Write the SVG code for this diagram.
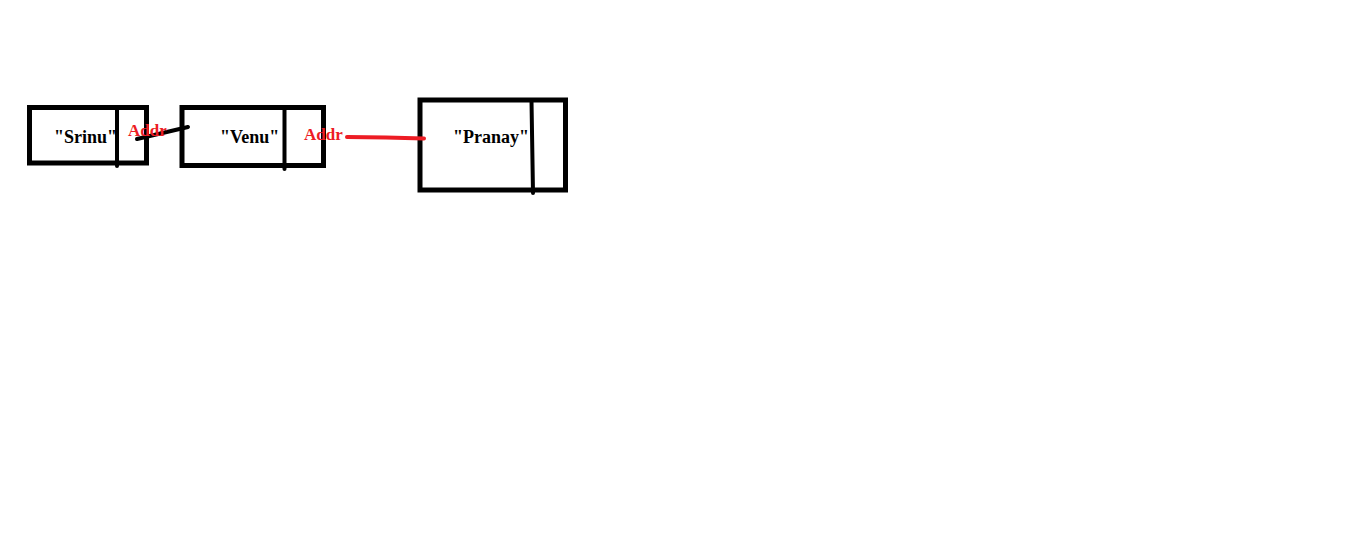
<svg xmlns="http://www.w3.org/2000/svg" width="1359" height="551" viewBox="0 0 1359 551">
<style>
.box{fill:none;stroke:#000;stroke-width:5}
.div{stroke:#000;stroke-width:4;stroke-linecap:round}
.lbl{font-family:"Liberation Serif",serif;font-weight:bold;font-size:18px;fill:#000}
.addr{font-family:"Liberation Serif",serif;font-weight:bold;font-size:17px;fill:#ed1c24}
</style>
<rect width="1359" height="551" fill="#fff"/>
<g id="node-srinu">
<rect class="box" x="29.5" y="107.5" width="117" height="55.5"/>
<line class="div" x1="117" y1="107" x2="117" y2="166"/>
<text class="lbl" x="54" y="143">"Srinu"</text>
</g>
<g id="node-venu">
<rect class="box" x="182" y="107.5" width="141.5" height="58"/>
<line class="div" x1="284.5" y1="107" x2="284.5" y2="169"/>
<text class="lbl" x="220" y="143">"Venu"</text>
</g>
<g id="node-pranay">
<rect class="box" x="420" y="100" width="145.5" height="90"/>
<line class="div" x1="531.5" y1="101" x2="533" y2="193"/>
<text class="lbl" x="453" y="143">"Pranay"</text>
</g>
<g id="connectors">
<line x1="137" y1="139" x2="188" y2="127" stroke="#000" stroke-width="4" stroke-linecap="round"/>
<text class="addr" x="128" y="136">Addr</text>
<polyline points="347,137 386,137.5 424,138.5" fill="none" stroke="#ed1c24" stroke-width="4" stroke-linecap="round"/>
<text class="addr" x="304" y="140">Addr</text>
</g>
</svg>
